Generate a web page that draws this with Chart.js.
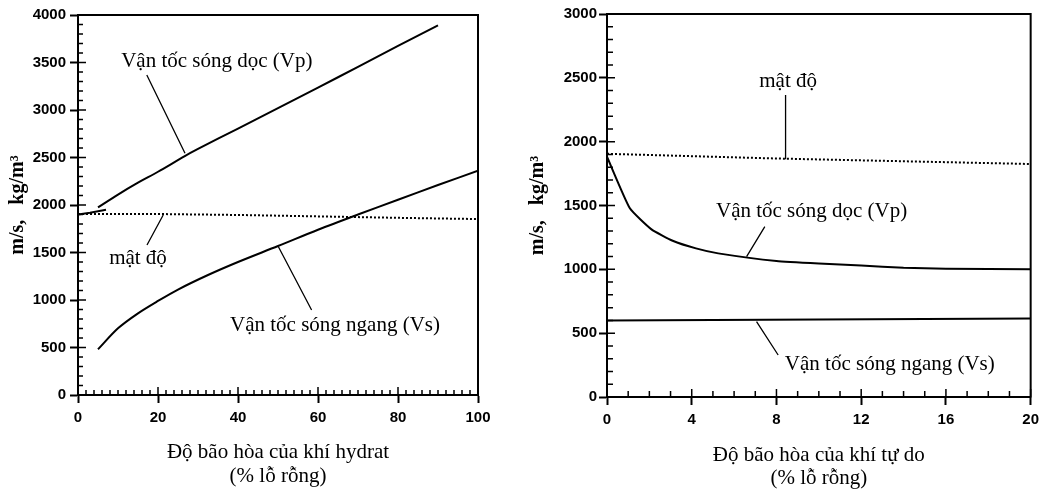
<!DOCTYPE html>
<html>
<head>
<meta charset="utf-8">
<script src="https://cdn.jsdelivr.net/npm/chart.js@4.4.1/dist/chart.umd.min.js"></script>
<style>
  html, body { margin: 0; padding: 0; background: #fff; }
  #left { position: absolute; left: 0; top: 0; }
  #right { position: absolute; left: 520px; top: 0; }
</style>
</head>
<body>
<canvas id="left" width="520" height="490"></canvas>
<canvas id="right" width="525" height="490"></canvas>
<script>
// left panel: hydrate saturation
const hydratVpX = [5, 10, 15, 20, 26.7, 30, 40, 50, 60, 70, 80, 90];
const hydratVp = [1975, 2110, 2235, 2350, 2515, 2590, 2805, 3020, 3235, 3455, 3675, 3890];
const hydratVsX = [5, 10, 15, 20, 25, 32.5, 40, 50, 60, 70, 80, 90, 100];
const hydratVs = [481, 702, 860, 990, 1110, 1263, 1400, 1568, 1740, 1900, 2055, 2210, 2360];
const hydratRhoX = [0, 20, 40, 60, 80, 100];
const hydratRho = [1905, 1905, 1895, 1880, 1865, 1852];
const hydratStubX = [0, 3, 7];
const hydratStub = [1900, 1918, 1950];
const hydratXTicks = [0, 20, 40, 60, 80, 100];
const hydratYTicks = [0, 500, 1000, 1500, 2000, 2500, 3000, 3500, 4000];

// right panel: free gas saturation
const gasVpX = [0, 1.08, 2.1, 3.1, 4.2, 5.25, 8, 10, 12, 14, 16, 20];
const gasVp = [1882, 1478, 1313, 1224, 1164, 1125, 1065, 1045, 1030, 1012, 1005, 1000];
const gasVsX = [0, 10, 20];
const gasVs = [600, 607, 615];
const gasRhoX = [0, 8, 20];
const gasRho = [1905, 1868, 1825];
const gasXTicks = [0, 4, 8, 12, 16, 20];
const gasYTicks = [0, 500, 1000, 1500, 2000, 2500, 3000];

const tickFont = { family: '"Liberation Sans", Arial, sans-serif', size: 15, weight: 'bold' };
const serif = '"Liberation Serif", "Times New Roman", serif';

function pts(xs, ys) { return xs.map((x, i) => ({ x: x, y: ys[i] })); }

function solid(xs, ys, tension) {
  return { data: pts(xs, ys), borderColor: '#000', borderWidth: 2, pointRadius: 0, tension: tension, fill: false };
}
function dotted(xs, ys) {
  return { data: pts(xs, ys), borderColor: '#000', borderWidth: 2, borderDash: [2, 2], pointRadius: 0, fill: false };
}

function extras(o) {
  return {
    id: 'extras',
    afterDraw(chart) {
      const ctx = chart.ctx, a = chart.chartArea, x = chart.scales.x, y = chart.scales.y;
      ctx.save();
      ctx.strokeStyle = '#000';
      ctx.lineWidth = 2;
      ctx.strokeRect(a.left, a.top, a.right - a.left, a.bottom - a.top);
      // inward ticks
      ctx.lineWidth = 1.5;
      ctx.beginPath();
      for (let i = 0; i * o.yMinor <= y.max; i++) {
        const v = i * o.yMinor, py = y.getPixelForValue(v);
        const len = v % o.yMajor === 0 ? 8 : o.minorLen;
        ctx.moveTo(a.left, py); ctx.lineTo(a.left + len, py);
      }
      for (let i = 0; i * o.xMinor <= x.max; i++) {
        const v = i * o.xMinor, px = x.getPixelForValue(v);
        const len = v % o.xMajor === 0 ? 8 : o.minorLen;
        ctx.moveTo(px, a.bottom); ctx.lineTo(px, a.bottom - len);
      }
      ctx.stroke();
      // leader lines
      ctx.lineWidth = 1.3;
      ctx.beginPath();
      o.leaders.forEach(l => {
        ctx.moveTo(x.getPixelForValue(l[0]), y.getPixelForValue(l[1]));
        ctx.lineTo(x.getPixelForValue(l[2]), y.getPixelForValue(l[3]));
      });
      ctx.stroke();
      // labels
      ctx.fillStyle = '#000';
      ctx.font = '21px ' + serif;
      ctx.textAlign = 'center';
      ctx.textBaseline = 'middle';
      o.notes.forEach(n => ctx.fillText(n.text, x.getPixelForValue(n.x), y.getPixelForValue(n.y)));
      ctx.restore();
    }
  };
}

function makeChart(id, cfg) {
  return new Chart(document.getElementById(id), {
    type: 'line',
    data: { datasets: cfg.datasets },
    options: {
      responsive: false,
      animation: false,
      layout: { padding: cfg.padding },
      plugins: { legend: { display: false }, tooltip: { enabled: false } },
      scales: {
        x: {
          type: 'linear', min: cfg.xTicks[0], max: cfg.xTicks[cfg.xTicks.length - 1],
          afterBuildTicks: s => { s.ticks = cfg.xTicks.map(v => ({ value: v })); },
          afterFit: s => { s.height = cfg.xHeight; },
          ticks: { font: tickFont, color: '#000', padding: 6, maxRotation: 0, callback: v => String(v) },
          grid: { drawOnChartArea: false, tickLength: 8, tickWidth: 2, tickColor: '#000' },
          border: { color: '#000', width: 2 },
          title: { display: true, text: cfg.xTitle, color: '#000', font: { family: serif, size: 21, lineHeight: cfg.xLine }, padding: { top: 0, bottom: cfg.xTitlePad } }
        },
        y: {
          type: 'linear', min: 0, max: cfg.yTicks[cfg.yTicks.length - 1],
          afterBuildTicks: s => { s.ticks = cfg.yTicks.map(v => ({ value: v })); },
          afterFit: s => { s.width = cfg.yWidth; },
          ticks: { font: tickFont, color: '#000', padding: cfg.yTickPad, callback: v => String(v) },
          grid: { drawOnChartArea: false, tickLength: 8, tickWidth: 2, tickColor: '#000' },
          border: { color: '#000', width: 2 },
          title: { display: true, text: 'm/s,   kg/m³', color: '#000', font: { family: serif, size: 20, weight: 'bold' }, padding: { top: 6, bottom: 0 } }
        }
      }
    },
    plugins: [extras(cfg.extras)]
  });
}

makeChart('left', {
  datasets: [solid(hydratVpX, hydratVp, 0.3), solid(hydratVsX, hydratVs, 0.3), dotted(hydratRhoX, hydratRho), solid(hydratStubX, hydratStub, 0)],
  padding: { top: 15, right: 42, bottom: 0, left: 0 },
  xTicks: hydratXTicks, yTicks: hydratYTicks,
  xHeight: 95, yWidth: 78, yTickPad: 4,
  xTitle: ['Độ bão hòa của khí hydrat', '(% lỗ rỗng)'], xLine: '24px', xTitlePad: 2,
  extras: {
    yMinor: 100, yMajor: 500, xMinor: 2, xMajor: 20, minorLen: 5,
    leaders: [[17.2, 3368, 26.75, 2544], [17.25, 1579, 21.3, 1895], [58.4, 895, 50.1, 1561]],
    notes: [
      { text: 'Vận tốc sóng dọc (Vp)', x: 34.7, y: 3508 },
      { text: 'mật độ', x: 15, y: 1442 },
      { text: 'Vận tốc sóng ngang (Vs)', x: 64.25, y: 737 }
    ]
  }
});

makeChart('right', {
  datasets: [solid(gasVpX, gasVp, 0.15), solid(gasVsX, gasVs, 0), dotted(gasRhoX, gasRho)],
  padding: { top: 14, right: 14, bottom: 0, left: 0 },
  xTicks: gasXTicks, yTicks: gasYTicks,
  xHeight: 93, yWidth: 87, yTickPad: 2,
  xTitle: ['Độ bão hòa của khí tự do', '(% lỗ rỗng)'], xLine: '23px', xTitlePad: 0,
  extras: {
    yMinor: 100, yMajor: 500, xMinor: 1, xMajor: 4, minorLen: 6,
    leaders: [[8.43, 2365, 8.43, 1862], [7.45, 1334, 6.59, 1099], [8.08, 329, 7.06, 590]],
    notes: [
      { text: 'mật độ', x: 8.55, y: 2470 },
      { text: 'Vận tốc sóng dọc (Vp)', x: 9.66, y: 1451 },
      { text: 'Vận tốc sóng ngang (Vs)', x: 13.35, y: 251 }
    ]
  }
});
</script>
</body>
</html>
